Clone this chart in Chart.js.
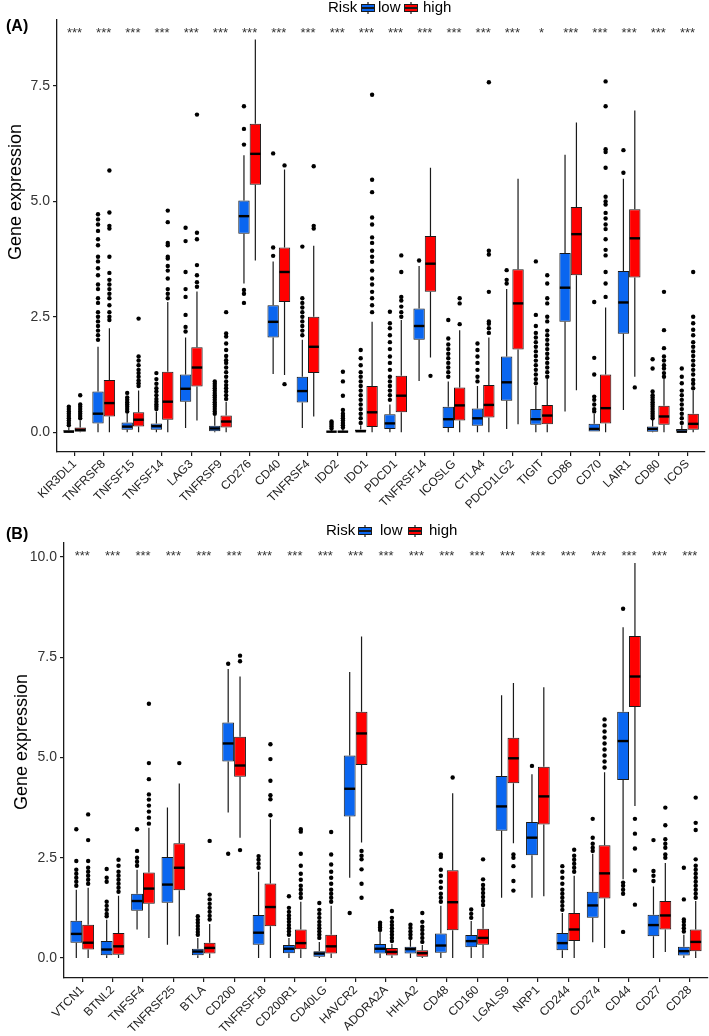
<!DOCTYPE html>
<html>
<head>
<meta charset="utf-8">
<script src="https://cdn.jsdelivr.net/npm/chart.js@4.4.1/dist/chart.umd.min.js"></script>
<style>
body{margin:0;background:#fff}
canvas{display:block}
</style>
</head>
<body>
<canvas id="panelA" width="709" height="512"></canvas>
<canvas id="panelB" width="709" height="524"></canvas>
<script>
// ================= PANEL A DATA =================
const genesA = ["KIR3DL1","TNFRSF8","TNFSF15","TNFSF14","LAG3","TNFRSF9","CD276","CD40","TNFRSF4","IDO2","IDO1",
  "PDCD1","TNFRSF14","ICOSLG","CTLA4","PDCD1LG2","TIGIT","CD86","CD70","LAIR1","CD80","ICOS"];
const starsA = ["***","***","***","***","***","***","***","***","***","***","***",
  "***","***","***","***","***","*","***","***","***","***","***"];
const yTicksA = [0, 2.5, 5, 7.5];

// [lower whisker, q1, median, q3, upper whisker]
const lowA = [
  [0,0,0.01,0.04,0.1],[0,0.19,0.40,0.88,1.85],[0,0.05,0.12,0.21,0.42],[0,0.05,0.13,0.19,0.45],
  [0.09,0.66,0.94,1.25,2.05],[0,0.02,0.08,0.14,0.35],[3.22,4.3,4.68,5.02,6.0],[1.26,2.05,2.39,2.75,3.7],
  [0.09,0.64,0.89,1.2,2.0],[0,0,0.01,0.02,0.05],[0,0,0.02,0.06,0.15],[0,0.07,0.19,0.39,0.6],
  [1.11,2.0,2.3,2.68,3.6],[0,0.09,0.28,0.55,1.1],[0,0.14,0.3,0.51,1.0],[0.07,0.68,1.08,1.64,3.1],
  [0,0.16,0.28,0.5,1.0],[0.45,2.39,3.13,3.88,6.01],[0,0,0.07,0.18,0.4],[0.48,2.13,2.81,3.49,5.49],
  [0,0.01,0.07,0.12,0.27],[0,0,0.01,0.07,0.15]
];
const highA = [
  [0,0.01,0.05,0.1,0.25],[0,0.34,0.63,1.13,2.25],[0,0.12,0.27,0.43,0.9],[0,0.27,0.66,1.31,2.82],
  [0.25,0.99,1.4,1.84,3.05],[0,0.1,0.23,0.36,0.66],[3.72,5.36,6.03,6.68,8.51],[1.24,2.82,3.47,4.0,5.69],
  [0.34,1.28,1.85,2.5,4.04],[0,0,0.01,0.03,0.07],[0,0.11,0.43,1.0,2.39],[0,0.43,0.79,1.22,2.43],
  [1.62,3.04,3.65,4.25,5.73],[0,0.25,0.58,0.97,2.21],[0,0.32,0.59,1.02,2.05],[0.17,1.79,2.79,3.53,5.49],
  [0,0.17,0.36,0.59,1.15],[0.91,3.4,4.29,4.88,6.71],[0,0.19,0.52,1.25,2.7],[1.2,3.35,4.2,4.83,6.97],
  [0,0.16,0.34,0.57,1.15],[0,0.05,0.18,0.4,0.9]
];
const lowOutA = [
  [0.15,0.2,0.25,0.3,0.35,0.4,0.45,0.5,0.55],
  [2.0,2.1,2.2,2.3,2.4,2.5,2.6,2.8,2.9,3.1,3.2,3.4,3.55,3.7,3.8,4.05,4.18,4.36,4.5,4.61,4.72],
  [0.45,0.5,0.55,0.6,0.65,0.7,0.75,0.85],
  [0.5,0.55,0.6,0.66,0.72,0.8,0.88,0.95,1.05,1.15,1.28],
  [2.18,2.28,2.54,2.93,3.1,3.47,4.14,4.43],
  [0.4,0.45,0.5,0.55,0.6,0.65,0.7,0.75,0.8,0.85,0.9,0.95,1.0,1.05,1.1],
  [2.8,3.0,3.08,6.23,6.57,7.06],
  [3.82,4.0,6.04],
  [2.1,2.2,2.3,2.4,2.5,2.6,2.7,2.8,2.9,4.02],
  [0.08,0.12,0.16,0.2,0.23],
  [0.2,0.3,0.4,0.5,0.6,0.7,0.8,0.9,1.0,1.1,1.2,1.3,1.45,1.6,1.78],
  [0.7,0.8,0.9,1.0,1.1,1.2,1.35,1.5,1.64,1.8,1.95,2.1,2.25,2.36,2.61],
  [3.72],
  [1.2,1.3,1.4,1.5,1.6,1.7,1.8,1.9,2.03,2.43],
  [1.1,1.2,1.35,1.5,1.64,1.78,1.92],
  [3.22,3.3,3.51],
  [1.06,1.15,1.25,1.35,1.45,1.55,1.65,1.75,1.85,1.95,2.05,2.15,2.3,2.54,3.7],
  [],
  [0.45,0.5,0.6,0.7,0.77,1.25,1.61,2.82],
  [5.62,6.11],
  [0.3,0.35,0.4,0.45,0.5,0.55,0.6,0.65,0.7,0.75,0.8,0.88,1.38,1.58],
  [0.2,0.3,0.4,0.5,0.6,0.7,0.8,0.9,1.06,1.2,1.38]
];
const highOutA = [
  [0.3,0.35,0.4,0.45,0.5,0.55,0.6,0.8],
  [2.43,2.5,2.6,2.75,2.9,3.0,3.1,3.2,3.3,3.45,3.8,4.41,4.47,4.76,5.67],
  [1.0,1.06,1.12,1.2,1.28,1.35,1.45,1.55,1.64,2.46],
  [2.9,3.0,3.1,3.33,3.5,3.6,3.76,3.8,4.05,4.1,4.55,4.8],
  [3.15,3.25,3.4,3.62,4.18,4.32,6.88],
  [0.72,0.8,0.88,0.95,1.02,1.1,1.2,1.3,1.4,1.5,1.56,1.65,1.78,1.92,2.07,2.14,2.6],
  [],
  [1.04,5.78],
  [4.41,4.47,5.76],
  [0.1,0.15,0.2,0.25,0.3,0.35,0.4,0.48,0.79,1.1,1.31],
  [2.6,2.75,2.9,3.04,3.2,3.33,3.5,3.69,3.8,3.93,4.1,4.22,4.5,4.65,5.2,5.47,7.31],
  [2.5,2.6,2.72,2.85,2.93,3.47,3.83],
  [1.22],
  [2.34,2.79,2.9],
  [2.15,2.25,2.35,2.4,3.04,3.85,3.93,7.58],
  [],
  [1.2,1.3,1.4,1.5,1.6,1.7,1.8,1.9,2.0,2.1,2.2,2.4,2.5,2.79,2.9,3.22,3.4],
  [],
  [2.93,3.22,3.47,3.83,3.95,4.18,4.4,4.5,4.63,4.75,4.93,5.0,5.1,5.73,6.07,6.13,7.06,7.6],
  [0.97],
  [1.2,1.28,1.38,1.45,1.55,1.64,1.82,2.21,3.04],
  [0.95,1.05,1.13,1.25,1.35,1.45,1.55,1.65,1.75,1.85,1.95,2.1,2.22,2.36,2.5,3.47]
];

// ================= PANEL B DATA =================
const genesB = ["VTCN1","BTNL2","TNFSF4","TNFRSF25","BTLA","CD200","TNFRSF18","CD200R1","CD40LG","HAVCR2",
  "ADORA2A","HHLA2","CD48","CD160","LGALS9","NRP1","CD244","CD274","CD44","CD27","CD28"];
const starsB = genesB.map(()=>"***");
const yTicksB = [0, 2.5, 5, 7.5, 10];

const lowB = [
  [0,0.38,0.6,0.93,1.7],[0,0.07,0.21,0.42,0.95],[0.71,1.18,1.42,1.6,2.2],[0.33,1.38,1.83,2.52,3.75],
  [0,0.07,0.16,0.23,0.5],[3.63,4.9,5.35,5.87,7.21],[0,0.33,0.63,1.07,2.15],[0,0.12,0.23,0.32,0.5],
  [0,0.03,0.11,0.17,0.4],[2.0,3.53,4.22,5.05,7.13],[0,0.11,0.23,0.35,0.65],[0,0.11,0.22,0.28,0.45],
  [0,0.13,0.31,0.61,1.3],[0,0.27,0.42,0.57,0.92],[1.5,3.17,3.78,4.54,6.55],[1.5,2.56,3.0,3.39,4.58],
  [0,0.19,0.37,0.62,1.12],[0.39,1.0,1.31,1.65,2.6],[1.96,4.44,5.41,6.14,8.25],[0,0.54,0.82,1.08,1.78],
  [0,0.06,0.17,0.28,0.58]
];
const highB = [
  [0,0.21,0.38,0.83,1.75],[0,0.08,0.29,0.62,1.55],[0.5,1.35,1.73,2.13,3.25],[0.54,1.69,2.25,2.86,4.35],
  [0,0.11,0.25,0.38,0.85],[3.0,4.52,4.8,5.52,7.02],[0,0.79,1.27,1.86,3.46],[0,0.22,0.37,0.71,1.4],
  [0,0.11,0.29,0.58,1.3],[2.88,4.81,5.6,6.14,8.02],[0,0.06,0.15,0.25,0.35],[0,0.03,0.12,0.19,0.32],
  [0,0.69,1.39,2.19,4.11],[0,0.33,0.5,0.73,1.25],[2.86,4.36,4.98,5.49,6.86],[1.54,3.33,4.03,4.77,6.75],
  [0,0.42,0.71,1.12,2.05],[0.25,1.48,2.11,2.81,4.63],[3.79,6.26,7.02,8.03,9.85],[0.15,0.71,1.06,1.42,2.37],
  [0,0.17,0.4,0.71,1.42]
];
const lowOutB = [
  [1.8,1.9,2.0,2.1,2.2,2.42,3.21],
  [1.04,1.1,1.2,1.3,1.4,1.9,2.0,2.22],
  [2.3,2.4,2.5,2.67,3.21],
  [],
  [0.58,0.65,0.72,0.8,0.88,0.95,1.04],
  [2.6,7.34],
  [2.25,2.35,2.45,2.54],
  [0.58,0.66,0.74,0.82,0.9,0.98,1.06,1.15,1.25,1.54],
  [0.5,0.58,0.66,0.74,0.82,0.9,1.0,1.1,1.2,1.37],
  [1.12],
  [0.7,0.76,0.82,0.88],
  [0.5,0.58,0.66,0.75,0.83],
  [1.4,1.5,1.6,1.75,1.9,2.05,2.2,2.52,2.58],
  [1.0,1.1,1.21],
  [],
  [4.79],
  [1.2,1.3,1.4,1.5,1.6,1.7,1.85,2.0,2.15,2.29],
  [2.67,2.75,2.85,3.0,3.47],
  [0.65,1.6,1.7,1.8,1.88,8.71],
  [1.92,2.05,2.17,2.94],
  [0.66,0.74,0.82,0.9,0.96,1.46,2.25]
];
const highOutB = [
  [1.85,1.95,2.05,2.15,2.25,2.42,2.94,3.58],
  [1.65,1.75,1.85,1.95,2.05,2.15,2.3,2.45],
  [3.35,3.5,3.65,3.8,3.95,4.08,4.46,4.86,6.34],
  [4.86],
  [0.96,1.05,1.15,1.25,1.35,1.46,1.58,2.92],
  [2.69,7.4,7.54],
  [3.56,3.96,4.06,4.42,4.96,5.33],
  [1.5,1.6,1.7,1.8,1.95,2.1,2.3,2.6,3.15,3.21],
  [1.4,1.5,1.6,1.7,1.85,2.0,2.15,2.33,2.58,3.14],
  [1.5,1.85,2.21,2.46,2.55,2.67],
  [0.42,0.5,0.58,0.66,0.74,0.82,0.9,1.0,1.17],
  [0.4,0.5,0.6,0.7,0.78,0.9,1.12],
  [4.5],
  [1.32,1.42,1.52,1.62,1.72,1.82,1.96,2.46],
  [1.68,1.92,2.29,2.5,2.58],
  [],
  [2.15,2.25,2.35,2.45,2.55,2.7],
  [4.75,4.9,5.05,5.2,5.35,5.5,5.65,5.8,5.95],
  [1.33,2.18,2.73,3.1,3.47],
  [2.5,2.58,2.75,2.85,2.96,3.31,3.75],
  [1.5,1.6,1.7,1.8,1.9,2.0,2.1,2.2,2.3,2.46,3.19,3.37,4.0]
];

// ================= STYLE =================
const BLUE = "#0a66f0";
const RED  = "#ff0000";
const INK  = "#1a1a1a";
const FONT = "'Liberation Sans', Arial, sans-serif";
Chart.defaults.font.family = FONT;

// ================= PLUGIN: whiskers, medians, outliers, labels =================
function makeDecor(cfg){
  return {
    id:"boxDecor",
    beforeDatasetsDraw(chart){
      const {ctx, scales:{y}} = chart;
      ctx.save();
      ctx.strokeStyle = INK;
      ctx.lineWidth = 1.2;
      chart.data.datasets.forEach((ds,d)=>{
        chart.getDatasetMeta(d).data.forEach((bar,j)=>{
          const b = ds.boxes[j];
          ctx.beginPath();
          ctx.moveTo(bar.x, y.getPixelForValue(b[3])); ctx.lineTo(bar.x, y.getPixelForValue(b[4]));
          ctx.moveTo(bar.x, y.getPixelForValue(b[1])); ctx.lineTo(bar.x, y.getPixelForValue(b[0]));
          ctx.stroke();
        });
      });
      ctx.restore();
    },
    afterDatasetsDraw(chart){
      const {ctx, scales:{y}} = chart;
      ctx.save();
      chart.data.datasets.forEach((ds,d)=>{
        chart.getDatasetMeta(d).data.forEach((bar,j)=>{
          const b = ds.boxes[j];
          const half = bar.width/2;
          const ym = y.getPixelForValue(b[2]);
          ctx.strokeStyle = "#000";
          ctx.lineWidth = 2.4;
          ctx.beginPath();
          ctx.moveTo(bar.x-half+0.5, ym); ctx.lineTo(bar.x+half-0.5, ym);
          ctx.stroke();
          ctx.fillStyle = "#000";
          ds.outliers[j].forEach(v=>{
            ctx.beginPath();
            ctx.arc(bar.x, y.getPixelForValue(v), 2.2, 0, Math.PI*2);
            ctx.fill();
          });
        });
      });
      ctx.restore();
    },
    afterDraw(chart){
      const {ctx, scales:{x,y}} = chart;
      ctx.save();
      // significance stars
      ctx.fillStyle = "#333";
      ctx.font = "13px "+FONT;
      ctx.textAlign = "center";
      ctx.textBaseline = "middle";
      cfg.stars.forEach((s,i)=>{
        ctx.fillText(s, x.getPixelForValue(i), y.getPixelForValue(cfg.starY)+3);
      });
      // panel tag
      ctx.fillStyle = "#000";
      ctx.font = "bold 16px "+FONT;
      ctx.textAlign = "left";
      ctx.fillText(cfg.tag, 6, cfg.tagY);
      // y title
      ctx.save();
      ctx.translate(cfg.titleX, cfg.titleY);
      ctx.rotate(-Math.PI/2);
      ctx.textAlign = "center";
      ctx.font = "18px "+FONT;
      ctx.fillText("Gene expression", 0, 0);
      ctx.restore();
      // legend
      const ly = cfg.legendY;
      ctx.font = "15px "+FONT;
      ctx.textAlign = "left";
      ctx.fillStyle = "#000";
      ctx.fillText("Risk", cfg.legendX[0], ly);
      chart.data.datasets.forEach((ds,d)=>{
        const kx = cfg.legendX[1+d*2];
        ctx.fillStyle = ds.backgroundColor;
        ctx.fillRect(kx, ly-4, 14, 8);
        ctx.strokeStyle = INK;
        ctx.lineWidth = 1;
        ctx.strokeRect(kx+0.5, ly-3.5, 13, 7);
        ctx.lineWidth = 2;
        ctx.beginPath(); ctx.moveTo(kx+1, ly); ctx.lineTo(kx+13, ly); ctx.stroke();
        ctx.lineWidth = 1.2;
        ctx.beginPath(); ctx.moveTo(kx+7, ly+4); ctx.lineTo(kx+7, ly+6);
        ctx.moveTo(kx+7, ly-4); ctx.lineTo(kx+7, ly-6); ctx.stroke();
        ctx.fillStyle = "#000";
        ctx.fillText(ds.label, cfg.legendX[2+d*2], ly);
      });
      ctx.restore();
    }
  };
}

// ================= BUILD PANEL =================
function makePanel(id, genes, low, high, lowOut, highOut, yTicks, cfg){
  const n = genes.length;
  const toBars = arr => arr.map((b,i)=>({x:i, y:[b[1], b[3]]}));
  const ds = (label, boxes, outs, color) => ({
    label, boxes, outliers: outs,
    data: toBars(boxes),
    backgroundColor: color,
    borderColor: INK,
    borderWidth: 1,
    borderSkipped: false,
    categoryPercentage: 0.78,
    barPercentage: 1.0
  });
  return new Chart(document.getElementById(id), {
    type:"bar",
    data:{ datasets:[ ds("low", low, lowOut, BLUE), ds("high", high, highOut, RED) ] },
    options:{
      responsive:false,
      animation:false,
      devicePixelRatio:1,
      layout:{ padding:{ top:cfg.padTop, right:cfg.padRight, left:0, bottom:0 } },
      plugins:{ legend:{display:false}, tooltip:{enabled:false} },
      scales:{
        x:{
          type:"linear",
          offset:false,
          min:-0.6, max:n-0.4,
          afterBuildTicks: s => { s.ticks = genes.map((_,i)=>({value:i})); },
          afterFit: s => { s.height = cfg.xHeight; },
          grid:{ offset:false, drawOnChartArea:false, drawTicks:true, tickLength:4, color:INK, lineWidth:1.2 },
          border:{ display:true, color:INK, width:1.3 },
          ticks:{
            autoSkip:false, minRotation:45, maxRotation:45, padding:1,
            color:"#222", font:{ size:12 },
            callback: v => genes[v]
          }
        },
        y:{
          min:cfg.yMin, max:cfg.yMax,
          afterBuildTicks: s => { s.ticks = yTicks.map(v=>({value:v})); },
          afterFit: s => { s.width = cfg.yWidth; },
          grid:{ drawOnChartArea:false, drawTicks:true, tickLength:4, color:INK, lineWidth:1.2 },
          border:{ display:true, color:INK, width:1.3 },
          ticks:{ color:"#333", font:{ size:14 }, padding:3, callback: v => v.toFixed(1) }
        }
      }
    },
    plugins:[ makeDecor(cfg) ]
  });
}

makePanel("panelA", genesA, lowA, highA, lowOutA, highOutA, yTicksA, {
  yMin:-0.43, yMax:8.93, starY:8.71, stars:starsA,
  padTop:20, padRight:4, xHeight:60, yWidth:57,
  tag:"(A)", tagY:27, titleX:16, titleY:192,
  legendY:8, legendX:[328, 361, 378, 404, 423]
});

makePanel("panelB", genesB, lowB, highB, lowOutB, highOutB, yTicksB, {
  yMin:-0.5, yMax:10.35, starY:10.1, stars:starsB,
  padTop:31, padRight:1, xHeight:58, yWidth:64,
  tag:"(B)", tagY:23, titleX:22, titleY:230,
  legendY:19, legendX:[326, 358, 380, 408, 429]
});
</script>
</body>
</html>
